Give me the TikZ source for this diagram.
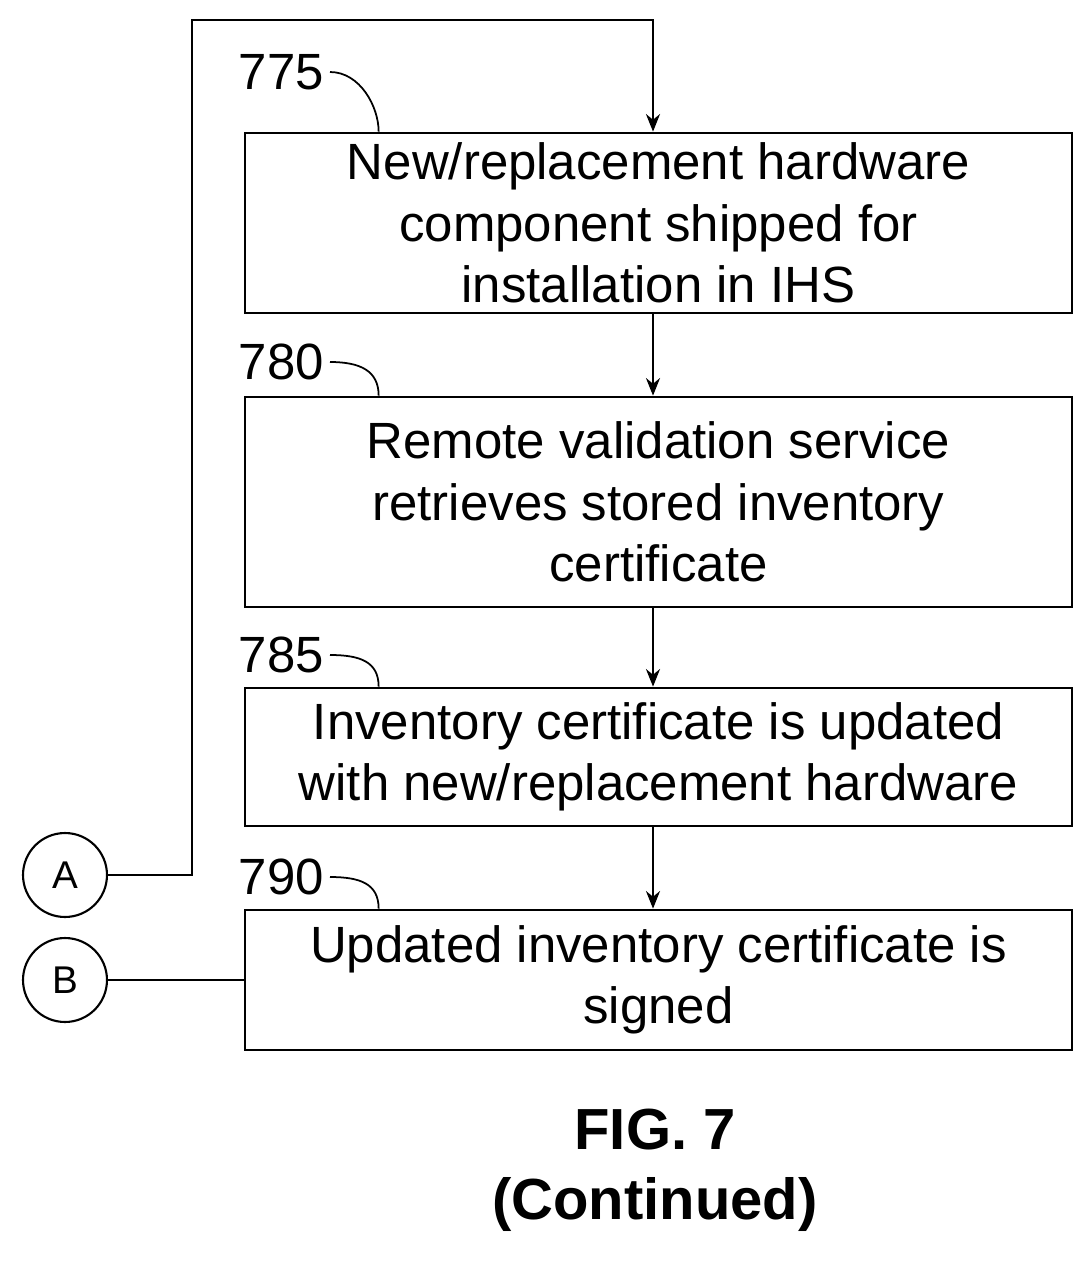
\documentclass[tikz,border=0pt]{standalone}
\usepackage{fontspec}
\setmainfont{Liberation Sans}
\usetikzlibrary{positioning, calc, arrows.meta}

\begin{document}
\begin{tikzpicture}[
    x=0.02cm, y=-0.02cm,
    stepbox/.style={rectangle, draw, line width=1.6pt, minimum width=16.54cm, align=center, font=\fontsize{29}{35}\selectfont, inner sep=0pt},
    conn/.style={circle, draw, line width=1.2pt, minimum size=1.68cm, font=\fontsize{22}{26}\selectfont},
    ref/.style={font=\fontsize{29}{35}\selectfont, anchor=east},
    arrow/.style={-{Stealth[length=10pt,width=8pt]}, line width=1.2pt},
    lead/.style={line width=1pt}
]
\useasboundingbox (0,0) rectangle (1090,1269);

% Steps
\node[stepbox, minimum height=3.6cm] (ship) at (658.5,223) {New/replacement hardware\\component shipped for\\installation in IHS};
\node[stepbox, minimum height=4.2cm] (retrieve) at (658.5,502) {Remote validation service\\retrieves stored inventory\\certificate};
\node[stepbox, minimum height=2.76cm] (update) at (658.5,757) {Inventory certificate is updated\\with new/replacement hardware};
\node[stepbox, minimum height=2.8cm] (sign) at (658.5,980) {Updated inventory certificate is\\signed};

% Connectors
\node[conn] (A) at (65,875) {A};
\node[conn] (B) at (65,980) {B};

% Reference numerals
\node[ref] (n775) at (330,72) {775};
\node[ref] (n780) at (330,362) {780};
\node[ref] (n785) at (330,655) {785};
\node[ref] (n790) at (330,877) {790};
\foreach \n/\b in {n775/ship, n780/retrieve, n785/update, n790/sign}
  \draw[lead] (\n.east) .. controls +(30,0) and +(0,-25) .. ([xshift=2.7cm]\b.north west);

% Arrows
\coordinate (top) at (653,20);
\draw[arrow] (A.east) -- (192,875) -- (192,20) -- (top) -- (ship.north -| top);
\draw[arrow] (ship.south -| top) -- (retrieve.north -| top);
\draw[arrow] (retrieve.south -| top) -- (update.north -| top);
\draw[arrow] (update.south -| top) -- (sign.north -| top);
\draw[line width=1.2pt] (B.east) -- (sign.west);

% Caption
\node[font=\bfseries\fontsize{33}{40}\selectfont, align=center] (cap) at (655,1170) {FIG. 7\\(Continued)};
\end{tikzpicture}
\end{document}
